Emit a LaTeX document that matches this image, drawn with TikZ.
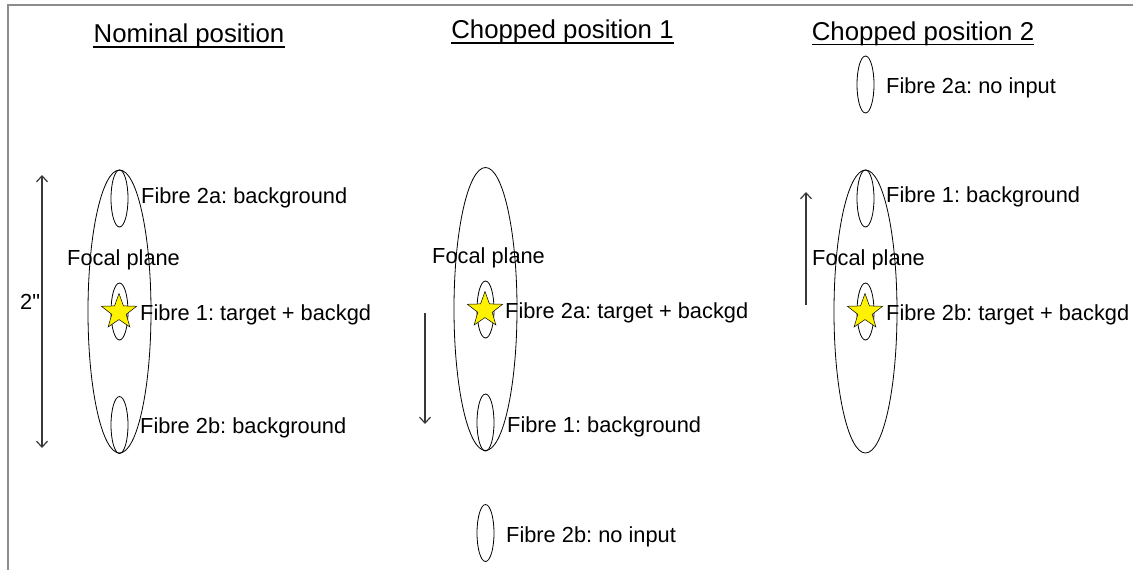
\documentclass[tikz,border=0pt]{standalone}
\usepackage{fontspec}
\setmainfont{Liberation Sans}
\newfontfamily\rawfont{Liberation Sans}[Ligatures=TeXOff]
\usetikzlibrary{shapes.geometric,arrows.meta}
\begin{document}
\frenchspacing
\begin{tikzpicture}[x=1pt,y=-1pt,
  lbl/.style={anchor=base west,inner sep=0pt,font=\fontsize{21.8}{26}\selectfont},
  ttl/.style={anchor=base,inner sep=0pt,font=\fontsize{25.8}{30}\selectfont},
  fov/.style={draw=black,line width=0.8pt,ellipse,inner sep=0pt,minimum width=63pt,minimum height=283pt},
  fib/.style={draw=black,line width=0.8pt,ellipse,inner sep=0pt,minimum width=17pt,minimum height=57pt},
  tgt/.style={star,star points=5,star point ratio=2.45,draw=black,line width=0.5pt,fill=yellow,inner sep=0pt,minimum size=37pt},
  mv/.style={draw=black!78,line width=1.2pt,-{Straight Barb[length=6pt,width=11pt]}},
  frm/.style={draw=black!45,line width=2pt}]
\useasboundingbox (0,0) rectangle (1133,570);
% frame
\coordinate (fa) at (8,570);
\coordinate (fb) at (8,5);
\coordinate (fc) at (1133,5);
\draw[frm] (fa) -- (fb) -- (fc);
% titles
\node[ttl] (t1) at (189,42.5) {Nominal position};
\node[ttl] (t2) at (562.5,38.5) {Chopped position 1};
\node[ttl] (t3) at (923,40) {Chopped position 2};
\foreach \t in {t1,t2,t3}{
  \draw[line width=1.8pt] ([yshift=-4.5pt]\t.base west) -- ([yshift=-4.5pt]\t.base east);
}
% ---------- nominal ----------
\node[fov] (n0) at (119.5,311.5) {};
\node[fib] (n2a) at (119.5,198.5) {};
\node[fib] (n1) at (119.5,311.5) {};
\node[fib] (n2b) at (119.5,425) {};
\node[tgt] (ns) at (119,312) {};
\node[lbl] (nl2a) at (141,203) {Fibre 2a: background};
\node[lbl] (nl1) at (140,320) {Fibre 1: target + backgd};
\node[lbl] (nl2b) at (140,433.5) {Fibre 2b: background};
\node[lbl] (nfp) at (67,265) {Focal plane};
\node[lbl] (nd) at (20,309.5) {{\rawfont 2"}};
\coordinate (na) at (42,175);
\coordinate (nb) at (42,448);
\draw[mv,{Straight Barb[length=6pt,width=11pt]}-{Straight Barb[length=6pt,width=11pt]}] (na) -- (nb);
% ---------- chopped 1 ----------
\node[fov] (c0) at (485.5,309) {};
\node[fib] (c2a) at (485.5,309.5) {};
\node[fib] (c1) at (485.5,422.5) {};
\node[fib] (c2b) at (485.5,533) {};
\node[tgt] (cs) at (485,310) {};
\node[lbl] (cfp) at (432,263) {Focal plane};
\node[lbl] (cl2a) at (505,318) {Fibre 2a: target + backgd};
\node[lbl] (cl1) at (507,432) {Fibre 1: background};
\node[lbl] (cl2b) at (506,542) {Fibre 2b: no input};
\coordinate (ca) at (425,313);
\coordinate (cb) at (425,424);
\draw[mv] (ca) -- (cb);
% ---------- chopped 2 ----------
\node[fib] (d2a) at (865.5,84.5) {};
\node[fov] (d0) at (865.5,311.5) {};
\node[fib] (d1) at (865.5,198.5) {};
\node[fib] (d2b) at (865.5,311.5) {};
\node[tgt] (ds) at (865,312) {};
\node[lbl] (dl2a) at (886,93) {Fibre 2a: no input};
\node[lbl] (dl1) at (886,202.5) {Fibre 1: background};
\node[lbl] (dfp) at (812,265) {Focal plane};
\node[lbl] (dl2b) at (886,320) {Fibre 2b: target + backgd};
\coordinate (da) at (806,305);
\coordinate (db) at (806,192);
\draw[mv] (da) -- (db);
\end{tikzpicture}
\end{document}
